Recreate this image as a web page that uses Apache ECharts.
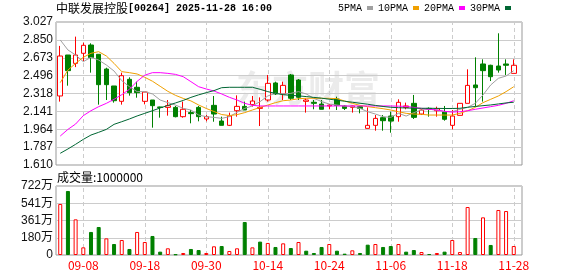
<!DOCTYPE html>
<html><head><meta charset="utf-8">
<script src="https://cdn.jsdelivr.net/npm/echarts@6/dist/echarts.min.js"></script>
<style>html,body{margin:0;padding:0;background:#fff}#c{width:578px;height:276px}</style>
</head><body><div id="c"></div>
<script>
const categories = ['09-03','09-04','09-05','09-08','09-09','09-10','09-11','09-12','09-15','09-16','09-17','09-18','09-19','09-22','09-23','09-24','09-25','09-26','09-29','09-30','10-02','10-03','10-06','10-08','10-09','10-10','10-13','10-14','10-15','10-16','10-17','10-20','10-21','10-22','10-23','10-24','10-27','10-28','10-30','10-31','11-03','11-04','11-05','11-06','11-07','11-10','11-11','11-12','11-13','11-14','11-17','11-18','11-19','11-20','11-21','11-24','11-25','11-26','11-27','11-28'];
const xLabels = ['09-08','09-18','09-30','10-14','10-24','11-06','11-18','11-28'];
const opens  = [2.294,2.700,2.617,2.717,2.799,2.707,2.561,2.393,2.241,2.459,2.380,2.241,2.254,2.185,2.181,2.181,2.089,2.129,2.181,2.066,2.201,2.046,2.003,2.148,2.191,2.208,2.171,2.254,2.423,2.314,2.502,2.452,2.241,2.231,2.214,2.195,2.264,2.195,2.181,2.188,1.973,2.003,2.079,2.095,2.089,2.181,2.221,2.115,2.171,2.148,2.135,2.003,2.102,2.221,2.403,2.611,2.598,2.591,2.611,2.518];
const closes = [2.690,2.545,2.700,2.796,2.674,2.406,2.406,2.247,2.495,2.327,2.327,2.333,2.198,2.180,2.198,2.089,2.162,2.119,2.089,2.089,2.115,2.003,2.095,2.191,2.155,2.244,2.181,2.419,2.314,2.399,2.271,2.281,2.254,2.221,2.162,2.204,2.200,2.171,2.195,2.171,2.003,2.072,2.049,2.045,2.231,2.195,2.082,2.155,2.162,2.168,2.063,2.095,2.221,2.399,2.376,2.545,2.485,2.551,2.598,2.598];
const lows   = [2.238,2.396,2.580,2.640,2.525,2.208,2.254,2.228,2.208,2.297,2.277,2.211,1.980,2.079,2.099,2.082,2.079,2.023,2.043,2.043,2.039,2.003,1.996,2.089,2.155,2.188,1.996,2.238,2.304,2.254,2.254,2.254,2.129,2.162,2.162,2.162,2.155,2.155,2.129,2.122,1.973,1.950,1.950,1.930,2.039,2.162,2.066,2.105,2.089,2.089,2.049,1.963,2.102,2.221,2.188,2.238,2.442,2.525,2.502,2.518];
const highs  = [2.790,2.700,2.882,2.822,2.816,2.707,2.574,2.393,2.525,2.479,2.436,2.333,2.254,2.188,2.254,2.195,2.238,2.155,2.195,2.105,2.294,2.089,2.129,2.300,2.238,2.294,2.280,2.502,2.436,2.436,2.512,2.462,2.271,2.254,2.254,2.214,2.287,2.204,2.198,2.195,2.181,2.105,2.105,2.138,2.261,2.228,2.304,2.162,2.181,2.188,2.195,2.155,2.221,2.558,2.677,2.657,2.604,2.915,2.657,2.657];
const volumes = [534,670,373,80,241,293,174,115,157,63,241,136,199,35,70,7,21,63,52,21,91,94,42,70,345,80,140,126,84,122,73,136,45,21,84,115,45,14,49,21,108,115,84,94,115,35,52,31,10,21,35,157,31,502,178,394,105,471,460,94];
const volUp = [1,0,1,1,0,0,1,0,1,0,1,1,0,0,1,0,1,0,0,1,1,0,1,1,0,1,0,1,0,1,0,1,0,0,0,1,0,0,1,0,0,1,0,0,1,0,0,1,0,1,0,1,1,1,0,1,0,1,1,1];
const ma5  = [2.849,2.750,2.700,2.634,2.677,2.650,2.601,2.541,2.446,2.386,2.337,2.337,2.314,2.254,2.228,2.204,2.171,2.155,2.105,2.089,2.082,2.072,2.089,2.132,2.171,2.195,2.238,2.294,2.320,2.314,2.320,2.337,2.314,2.271,2.238,2.214,2.204,2.195,2.188,2.171,2.138,2.115,2.089,2.082,2.122,2.095,2.129,2.155,2.162,2.155,2.138,2.138,2.162,2.181,2.221,2.304,2.403,2.469,2.492,2.545];
const ma10 = [2.426,2.551,2.617,2.677,2.717,2.733,2.690,2.617,2.535,2.525,2.512,2.479,2.440,2.390,2.340,2.300,2.270,2.245,2.205,2.170,2.140,2.110,2.100,2.109,2.129,2.155,2.181,2.204,2.228,2.247,2.254,2.267,2.271,2.271,2.271,2.271,2.267,2.244,2.221,2.201,2.188,2.178,2.168,2.155,2.138,2.122,2.115,2.112,2.105,2.105,2.105,2.105,2.122,2.148,2.181,2.228,2.261,2.294,2.337,2.386];
const ma20 = [1.897,1.963,2.016,2.099,2.148,2.188,2.221,2.261,2.307,2.360,2.439,2.500,2.525,2.525,2.518,2.508,2.485,2.436,2.386,2.363,2.343,2.314,2.281,2.254,2.221,2.201,2.195,2.195,2.195,2.195,2.195,2.195,2.195,2.195,2.195,2.195,2.195,2.195,2.195,2.195,2.195,2.195,2.195,2.195,2.193,2.191,2.181,2.171,2.162,2.155,2.142,2.135,2.138,2.148,2.162,2.175,2.188,2.201,2.221,2.247];
const ma30 = [1.726,1.769,1.815,1.864,1.907,1.934,1.963,2.013,2.039,2.066,2.096,2.122,2.148,2.175,2.200,2.225,2.250,2.280,2.305,2.327,2.347,2.376,2.380,2.380,2.380,2.380,2.360,2.337,2.320,2.307,2.300,2.295,2.288,2.280,2.272,2.262,2.252,2.242,2.232,2.222,2.212,2.200,2.190,2.182,2.178,2.175,2.173,2.172,2.172,2.171,2.170,2.170,2.172,2.182,2.190,2.198,2.205,2.215,2.225,2.232];
const priceTicks = ['1.610','1.787','1.964','2.141','2.318','2.496','2.673','2.850','3.027'];
const volTicks = ['0','180万','361万','541万','722万'];
const priceMin = 1.61, priceMax = 3.027, volMax = 722;

const CN = '"Noto Sans CJK SC", sans-serif';
const chart = echarts.init(document.getElementById('c'), null, {renderer: 'canvas'});
const candleData = categories.map((c, i) => [opens[i], closes[i], lows[i], highs[i]]);
const volData = volumes.map((v, i) => ({
  value: v,
  itemStyle: volUp[i] ? {color: '#ffffff', borderColor: '#ff0000', borderWidth: 1}
                      : {color: '#008000', borderColor: '#008000', borderWidth: 1}
}));
const dashLines = {
  silent: true, z: 1, symbol: ['none', 'none'],
  label: {show: false},
  lineStyle: {color: '#cccccc', type: [4, 3], width: 1},
  emphasis: {disabled: true},
  data: xLabels.map(d => ({xAxis: d}))
};
const frameL = 56, frameW = 466, dataL = 56.4, dataW = 461.2;
const mainTop = 22, mainH = 143, volTop = 186, volH = 69;
const maLine = (name, data, color) => ({
  name, type: 'line', data, xAxisIndex: 1, yAxisIndex: 1, showSymbol: false, symbol: 'none',
  smooth: false, z: 4, lineStyle: {color, width: 1}, itemStyle: {color}, emphasis: {disabled: true}, animation: false
});

chart.setOption({
  animation: false,
  backgroundColor: '#ffffff',
  title: [
    {text: '{a|中联发展控股}{b|[00264] 2025-11-28 16:00}', left: 56, top: 2, padding: 0,
     textStyle: {rich: {a: {fontFamily: CN, fontSize: 12, color: '#000', fontWeight: 'normal'},
                        b: {fontFamily: '"Liberation Mono", monospace', fontSize: 10, color: '#000'}}}},
    {text: '成交量:1000000', left: 57, top: 171, padding: 0,
     textStyle: {fontFamily: CN, fontSize: 12, color: '#000', fontWeight: 'normal'}}
  ],
  legend: {
    data: ['5PMA', '10PMA', '20PMA', '30PMA'],
    left: 338, top: 3, padding: 0, align: 'right', icon: 'rect',
    itemWidth: 6, itemHeight: 4, itemGap: 5, selectedMode: false,
    textStyle: {fontFamily: '"Liberation Mono", monospace', fontSize: 10, color: '#000'}
  },
  graphic: [{
    type: 'text', left: 236, top: 70, z: 0, silent: true,
    style: {text: '东方财富', fontFamily: CN, fontSize: 36, fontWeight: 'bold', fill: 'rgba(190,190,190,0.3)'}
  }],
  grid: [
    {left: frameL, top: mainTop, width: frameW, height: mainH, show: true, borderColor: '#999', borderWidth: 1, backgroundColor: 'transparent', outerBoundsMode: 'none'},
    {left: dataL, top: mainTop, width: dataW, height: mainH, show: false, outerBoundsMode: 'none'},
    {left: frameL, top: volTop, width: frameW, height: volH, show: true, borderColor: '#999', borderWidth: 1, backgroundColor: 'transparent', outerBoundsMode: 'none'},
    {left: dataL, top: volTop, width: dataW, height: volH, show: false, outerBoundsMode: 'none'}
  ],
  xAxis: [
    {gridIndex: 0, type: 'category', data: [''], show: false},
    {gridIndex: 1, type: 'category', data: categories, boundaryGap: true, show: false},
    {gridIndex: 2, type: 'category', data: [''], show: false},
    {gridIndex: 3, type: 'category', data: categories, boundaryGap: true,
     axisLine: {show: false}, axisTick: {show: false}, splitLine: {show: false},
     axisLabel: {show: true, color: '#ff0000', fontFamily: CN, fontSize: 12, margin: 4,
                 interval: (idx, val) => xLabels.includes(val), hideOverlap: false}}
  ],
  yAxis: [
    {gridIndex: 0, type: 'value', min: 0, max: priceTicks.length - 1, interval: 1,
     axisLine: {show: false}, axisTick: {show: false},
     splitLine: {show: true, lineStyle: {color: '#cccccc', width: 1}},
     axisLabel: {margin: 3, color: '#111', fontFamily: '"Liberation Sans", Arial, sans-serif', fontSize: 12,
                 formatter: v => priceTicks[v]}},
    {gridIndex: 1, type: 'value', min: priceMin, max: priceMax, show: false, splitLine: {show: false}},
    {gridIndex: 2, type: 'value', min: 0, max: volTicks.length - 1, interval: 1,
     axisLine: {show: false}, axisTick: {show: false},
     splitLine: {show: true, lineStyle: {color: '#cccccc', width: 1}},
     axisLabel: {margin: 3, color: '#111', fontFamily: '"Liberation Sans", "Noto Sans CJK SC", sans-serif', fontSize: 12,
                 formatter: v => volTicks[v]}},
    {gridIndex: 3, type: 'value', min: 0, max: volMax, show: false, splitLine: {show: false}}
  ],
  series: [
    {name: 'K', type: 'candlestick', xAxisIndex: 1, yAxisIndex: 1, data: candleData, barWidth: 5, z: 3,
     itemStyle: {color: '#ffffff', color0: '#008000', borderColor: '#ff0000', borderColor0: '#008000', borderWidth: 1},
     emphasis: {disabled: true}, markLine: dashLines},
    maLine('5PMA', ma5, '#a0a0a0'),
    maLine('10PMA', ma10, '#f0a000'),
    maLine('20PMA', ma20, '#ff00ff'),
    maLine('30PMA', ma30, '#006633'),
    {name: 'VOL', type: 'bar', xAxisIndex: 3, yAxisIndex: 3, data: volData, barWidth: 4, z: 3,
     emphasis: {disabled: true}, markLine: dashLines}
  ]
});
</script></body></html>
